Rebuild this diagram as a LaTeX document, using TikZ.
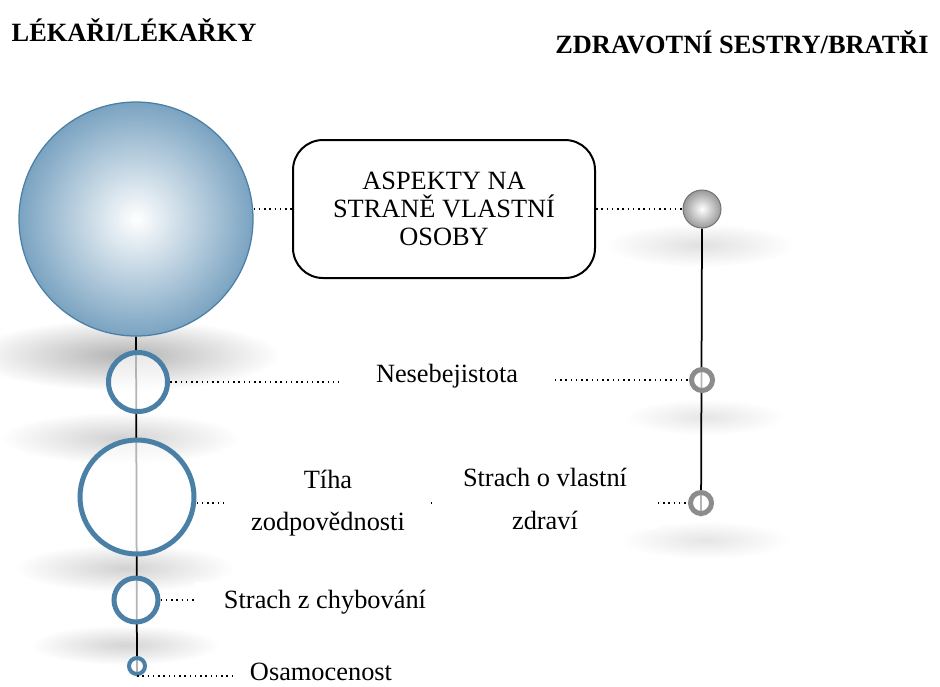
\documentclass[tikz,border=0pt]{standalone}
\usepackage{fontspec}
\setmainfont{Liberation Serif}
\usepackage{xcolor}
\usepackage{tikz}
\usetikzlibrary{backgrounds}

\definecolor{ringblue}{RGB}{74,127,166}
\definecolor{ballblue}{RGB}{122,163,193}
\definecolor{ringgrey}{RGB}{140,140,140}

\begin{document}
\begin{tikzpicture}[x=0.2mm, y=-0.2mm,
        txt/.style={font=\fontsize{15}{24}\selectfont, align=center, inner sep=0pt},
        lab/.style={txt, fill=white, minimum height=8mm},
        ring/.style={circle, draw=ringblue, line width=1mm, fill=white, fill opacity=0.7, draw opacity=1, inner sep=0pt},
        greyring/.style={circle, draw=ringgrey, line width=1mm, fill=white, fill opacity=0.7, draw opacity=1, inner sep=0pt, minimum size=4.2mm},
        dots/.style={line width=0.3mm, dash pattern=on 0.3mm off 0.75mm},
        shadow/.style={inner color=black!#1, outer color=white}]
        \useasboundingbox (0,0) rectangle (940,686);

        % Titles
        \node[txt, font=\fontsize{15}{18}\selectfont\bfseries] (docs) at (134,30) {LÉKAŘI/LÉKAŘKY};
        \node[txt, font=\fontsize{15}{18}\selectfont\bfseries] (nurses) at (742,42) {ZDRAVOTNÍ SESTRY/BRATŘI};

        % Left column
        \node[circle, draw=ringblue, line width=0.25mm, inner color=white, outer color=ballblue, minimum size=46.8mm, inner sep=0pt] (doc) at (136,219) {};
        \node[ring, minimum size=11.8mm] (ring1) at (138,382) {};
        \node[ring, minimum size=22.8mm] (ring2) at (137,497) {};
        \node[ring, minimum size=8.8mm] (ring3) at (136,600) {};
        \node[ring, line width=0.8mm, minimum size=3.2mm] (ring4) at (137,666) {};

        % Right column
        \node[circle, draw=black!55, line width=0.2mm, inner color=white, outer color=black!40, minimum size=7.6mm, inner sep=0pt] (nurse) at (702,209) {};
        \node[greyring] (ringR1) at (702,380) {};
        \node[greyring] (ringR2) at (701,503) {};

        % Central box
        \node[txt, draw, line width=0.4mm, rounded corners=6mm, minimum width=60.4mm, minimum height=27.6mm, font=\fontsize{15}{15.9}\selectfont] (self) at (444,209) {ASPEKTY NA\\STRANĚ VLASTNÍ\\OSOBY};

        % Labels
        \node[lab, minimum width=43mm] (nes) at (447,376) {Nesebejistota};
        \node[lab, minimum width=41mm] (tiha) at (328,503) {Tíha\\zodpovědnosti};
        \node[lab, minimum width=45mm] (zdravi) at (545,499) {Strach o vlastní\\zdraví};
        \node[lab, minimum width=52mm] (chyb) at (325,602) {Strach z chybování};
        \node[lab, minimum width=34.4mm, minimum height=6mm] (osam) at (321,672) {Osamocenost};

        % Soft shadows and the two stems
        \begin{scope}[on background layer]
            \shade[shadow=30] (125,355) ellipse (155 and 36);
            \shade[shadow=18] (120,438) ellipse (120 and 26);
            \shade[shadow=18] (125,568) ellipse (110 and 24);
            \shade[shadow=17] (125,645) ellipse (95 and 20);
            \shade[shadow=12] (700,245) ellipse (95 and 22);
            \shade[shadow=10] (705,417) ellipse (80 and 18);
            \shade[shadow=10] (705,540) ellipse (85 and 19);
            \draw[line width=0.35mm] (doc.south) -- (ring4.south);
            \draw[line width=0.35mm] (nurse.south) -- (ringR2.south);
        \end{scope}

        % Dotted connectors
        \draw[dots] (self.west -| doc.east) -- (self.west);
        \draw[dots] (self.east) -- (nurse.west);
        \draw[dots] (ring1.east) -- (ring1.east -| nes.west);
        \draw[dots] (ringR1.west -| nes.east) -- (ringR1.west);
        \draw[dots] (tiha.west -| ring2.east) -- (tiha.west);
        \draw[dots] (tiha.east) -- (tiha.east -| zdravi.west);
        \draw[dots] (ringR2.west -| zdravi.east) -- (ringR2.west);
        \draw[dots] (ring3.east) -- (ring3.east -| chyb.west);
        \draw[dots] (ring4.south) -- (ring4.south -| osam.west);
    \end{tikzpicture}
\end{document}
